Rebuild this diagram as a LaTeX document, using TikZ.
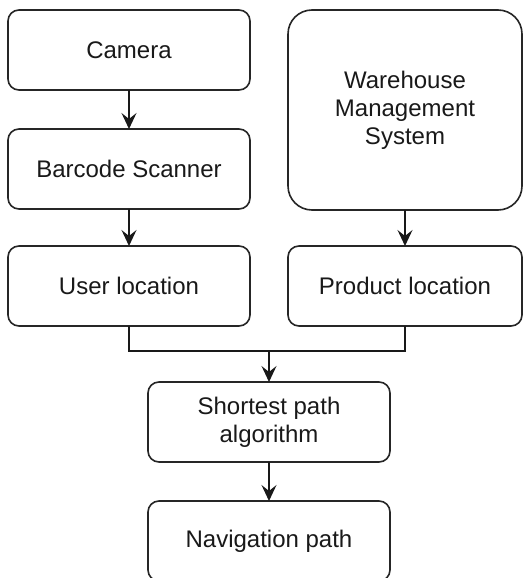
\documentclass[tikz,border=0pt]{standalone}
\usepackage{fontspec}
\setmainfont{Liberation Sans}
\usetikzlibrary{arrows.meta}
\tikzset{
  box/.style={draw=black!85, line width=1.6pt, rounded corners=11pt, fill=white,
    minimum width=242pt, minimum height=80pt, inner sep=0pt, outer sep=0pt,
    align=center, text=black!90, font=\fontsize{24}{28}\selectfont},
  link/.style={draw=black!90, line width=1.6pt,
    -{Stealth[length=16pt,width=15pt,inset=6pt]}},
  joint/.style={draw=black!90, line width=1.6pt}
}
\begin{document}
\begin{tikzpicture}[x=1pt,y=-1pt]
\clip (0,0) rectangle (528,578);
\fill[white] (0,0) rectangle (528,578);
% input chain on the left
\node[box] (cam) at (129,50) {Camera};
\node[box] (scan) at (129,169) {Barcode Scanner};
\node[box] (user) at (129,286) {User location};
% warehouse side
\node[box, minimum width=234pt, minimum height=200pt, rounded corners=24pt] (wms) at (405,110)
  {Warehouse\\Management\\System};
\node[box, minimum width=234pt] (prod) at (405,286) {Product location};
% result chain
\node[box] (algo) at (269,422) {Shortest path\\algorithm};
\node[box] (nav) at (269,541) {Navigation path};
\coordinate (merge) at (269,351);
% connectors
\draw[link] (cam) -- (scan);
\draw[link] (scan) -- (user);
\draw[link] (wms) -- (prod);
\draw[joint] (user.south) |- (merge);
\draw[joint] (prod.south) |- (merge);
\draw[link] (merge) -- (algo.north);
\draw[link] (algo) -- (nav);
\end{tikzpicture}
\end{document}
